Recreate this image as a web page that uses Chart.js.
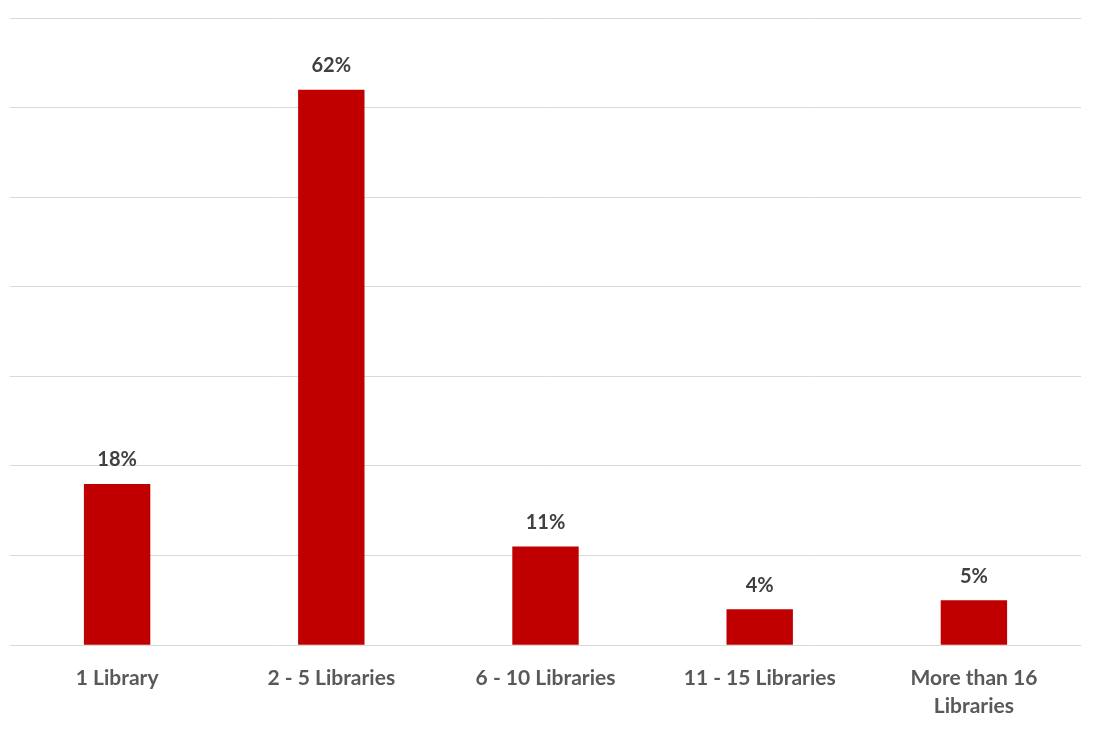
<!DOCTYPE html>
<html>
<head>
<meta charset="utf-8">
<script src="https://cdn.jsdelivr.net/npm/chart.js@4.4.1/dist/chart.umd.min.js"></script>
<style>
  html, body { margin: 0; padding: 0; background: #fff; }
  #wrap { width: 1094px; height: 729px; }
</style>
</head>
<body>
<div id="wrap"><canvas id="barChart" width="1094" height="729"></canvas></div>
<script>
// ── DATA ──────────────────────────────────────
const categories = [
  "1 Library",
  "2 - 5 Libraries",
  "6 - 10 Libraries",
  "11 - 15 Libraries",
  ["More than 16", "Libraries"]
];
const shares = [18, 62, 11, 4, 5];
const yTicks = [0, 10, 20, 30, 40, 50, 60, 70];

const FONT = "Lato, 'Open Sans', sans-serif";

// value labels above bars
const valueLabels = {
  id: "valueLabels",
  afterDatasetsDraw(chart) {
    const ctx = chart.ctx;
    const meta = chart.getDatasetMeta(0);
    ctx.save();
    ctx.font = "bold 20px " + FONT;
    ctx.fillStyle = "#404040";
    ctx.textAlign = "center";
    ctx.textBaseline = "middle";
    meta.data.forEach((bar, i) => {
      ctx.fillText(shares[i] + "%", bar.x, bar.y - 24);
    });
    ctx.restore();
  }
};

new Chart(document.getElementById("barChart"), {
  type: "bar",
  data: {
    labels: categories,
    datasets: [{
      data: shares,
      backgroundColor: "#C00000",
      borderWidth: 0,
      categoryPercentage: 1,
      barPercentage: 0.31
    }]
  },
  options: {
    responsive: false,
    animation: false,
    layout: { padding: { left: 10, right: 13, top: 18, bottom: -2 } },
    plugins: { legend: { display: false }, tooltip: { enabled: false } },
    scales: {
      x: {
        grid: { display: false },
        border: { display: false },
        ticks: {
          color: "#595959",
          font: { family: FONT, size: 21, weight: "bold", lineHeight: 1.33 },
          padding: 11,
          maxRotation: 0
        }
      },
      y: {
        min: yTicks[0],
        max: yTicks[yTicks.length - 1],
        afterBuildTicks(axis) { axis.ticks = yTicks.map(v => ({ value: v })); },
        grid: { color: "#d9d9d9", lineWidth: 1, drawTicks: false },
        border: { display: false },
        ticks: { display: false }
      }
    }
  },
  plugins: [valueLabels]
});
</script>
</body>
</html>
